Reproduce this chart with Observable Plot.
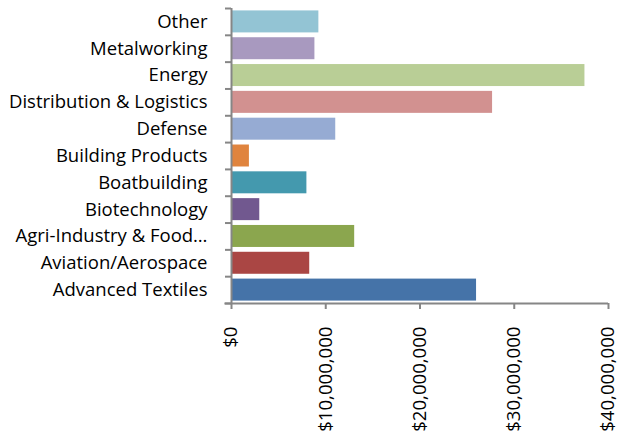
<!DOCTYPE html>
<html>
<head>
<meta charset="utf-8">
<script src="https://cdn.jsdelivr.net/npm/d3@7"></script>
<script src="https://cdn.jsdelivr.net/npm/@observablehq/plot@0.6"></script>
<style>
  html, body { margin: 0; padding: 0; background: #fff; }
  svg { display: block; }
</style>
</head>
<body>
<div id="chart"></div>
<script>
const categories = [
  "Other", "Metalworking", "Energy", "Distribution & Logistics", "Defense",
  "Building Products", "Boatbuilding", "Biotechnology", "Agri-Industry & Food…",
  "Aviation/Aerospace", "Advanced Textiles"
];
const values = [
  9270000, 8850000, 37500000, 27700000, 11060000,
  1900000, 8000000, 3000000, 13070000, 8300000, 26000000
];
const colors = [
  "#93C4D4", "#A899BF", "#B9CE96", "#D29190", "#96ABD3",
  "#E0843E", "#4499AE", "#71588F", "#8BA64E", "#AA4644", "#4573A8"
];
const xTicks = [0, 10000000, 20000000, 30000000, 40000000];

const data = categories.map((c, i) => ({ category: c, index: i, value: values[i], color: colors[i] }));
const boundaries = d3.range(categories.length + 1);
const centers = categories.map((c, i) => i + 0.5);
const pad = 0.09;

const fmt = d => "$" + d3.format(",")(d);

const chart = Plot.plot({
  width: 621,
  height: 438,
  marginLeft: 231,
  marginRight: 13,
  marginTop: 8,
  marginBottom: 135,
  style: { fontFamily: "Open Sans, sans-serif", fontSize: "18.5px", color: "#000", background: "#fff" },
  x: { domain: [0, 40000000], axis: null },
  y: { domain: [0, categories.length], reverse: true, axis: null },
  marks: [
    Plot.rectX(data, { x1: 0, x2: "value", y1: d => d.index + pad, y2: d => d.index + 1 - pad, fill: d => d.color }),
    // y axis line and ticks at category boundaries
    Plot.ruleX([0], { stroke: "#868686", strokeWidth: 2 }),
    Plot.axisY(boundaries, { tickSize: 6, tickFormat: () => "", stroke: "#868686", strokeWidth: 2, strokeOpacity: 1, anchor: "left", label: null }),
    Plot.axisY(centers, { tickSize: 0, tickPadding: 24, tickFormat: d => categories[Math.floor(d)], fill: "#000", fontSize: 18.5, anchor: "left", label: null }),
    // x axis
    Plot.ruleY([categories.length], { stroke: "#868686", strokeWidth: 2, x1: -700000, x2: 40000000 }),
    Plot.axisX(xTicks, { tickSize: 6, tickFormat: () => "", stroke: "#868686", strokeWidth: 2, strokeOpacity: 1, anchor: "bottom", label: null }),
    Plot.text(xTicks, { x: d => d, y: categories.length, text: fmt, rotate: -90, textAnchor: "end", dy: 23, fontSize: 18.6, fill: "#000" })
  ]
});
document.getElementById("chart").appendChild(chart);
</script>
</body>
</html>
